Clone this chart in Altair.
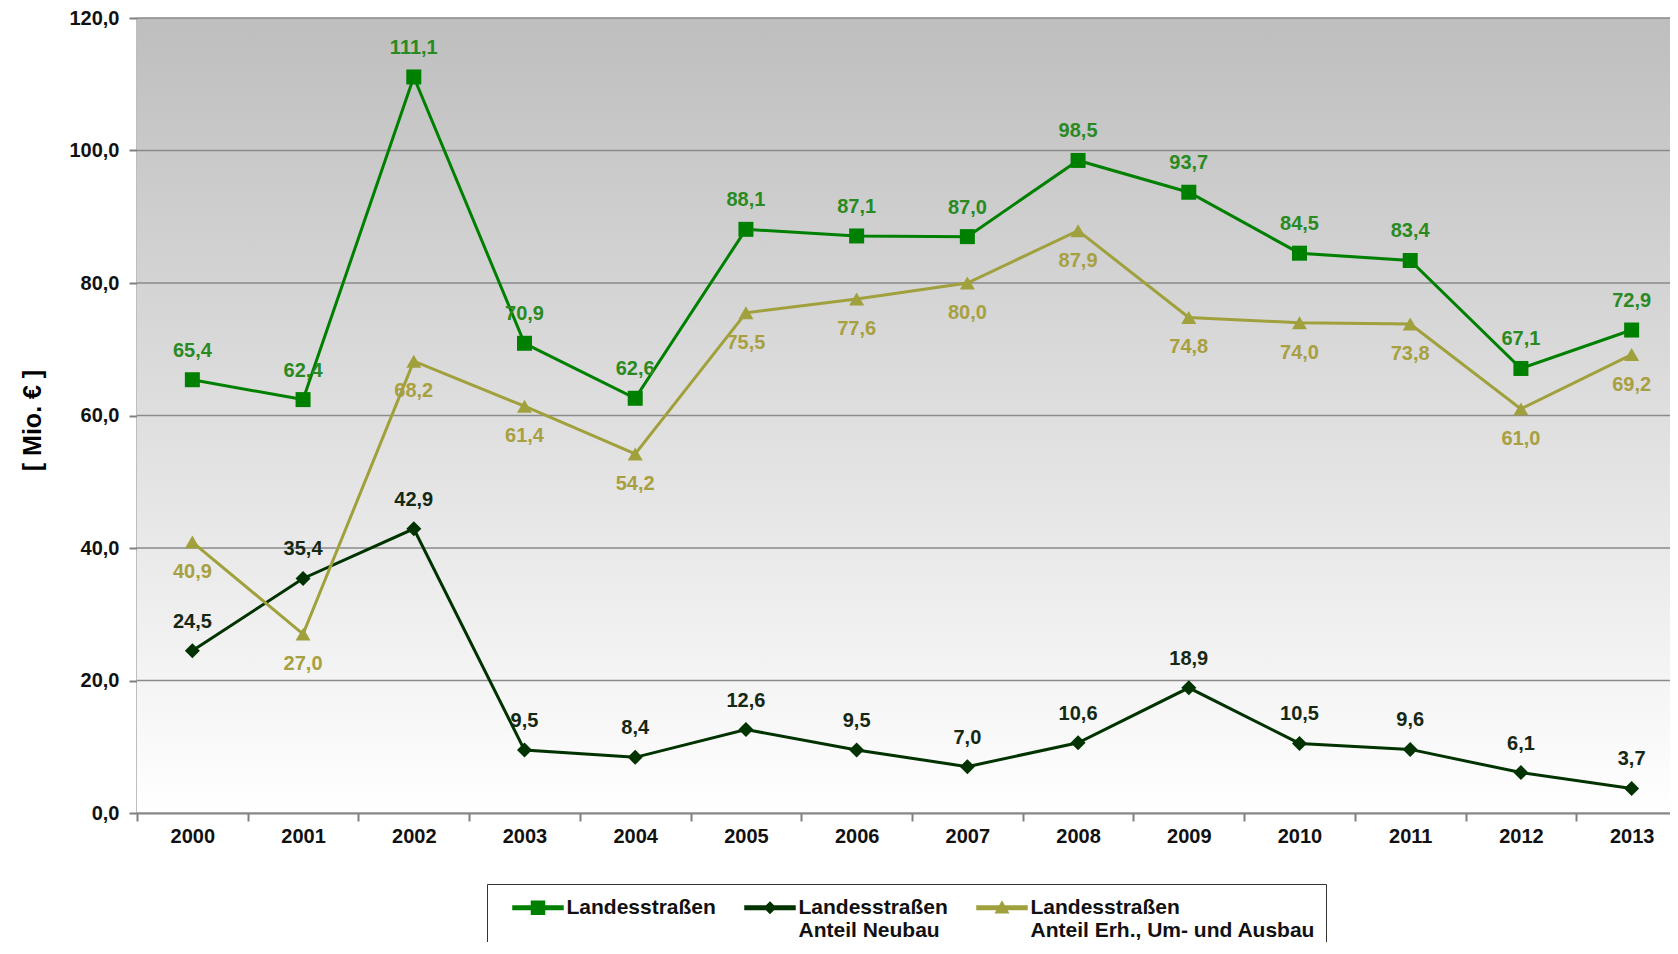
import altair as alt
import pandas as pd

years = [str(y) for y in range(2000, 2014)]
gesamt = [65.4, 62.4, 111.1, 70.9, 62.6, 88.1, 87.1, 87.0, 98.5, 93.7, 84.5, 83.4, 67.1, 72.9]
neubau = [24.5, 35.4, 42.9, 9.5, 8.4, 12.6, 9.5, 7.0, 10.6, 18.9, 10.5, 9.6, 6.1, 3.7]
erhalt = [40.9, 27.0, 68.2, 61.4, 54.2, 75.5, 77.6, 80.0, 87.9, 74.8, 74.0, 73.8, 61.0, 69.2]
series_names = [
    "Landesstraßen",
    "Landesstraßen|Anteil Neubau",
    "Landesstraßen|Anteil Erh., Um- und Ausbau",
]
line_colors = ["#008000", "#003300", "#a0a03c"]
label_colors = ["#2a8a22", "#142814", "#a8a040"]
marker_shapes = ["square", "diamond", "triangle-up"]
LINE = "M-2,-0.14L2,-0.14L2,0.14L-2,0.14Z "
legend_paths = [
    LINE + "M-0.52,-0.52L0.52,-0.52L0.52,0.52L-0.52,0.52Z",
    LINE + "M0,-0.44L0.44,0L0,0.44L-0.44,0Z",
    LINE + "M0,-0.48L0.5,0.4L-0.5,0.4Z",
]
label_dy = [-29, -29, 30]
y_ticks = [0, 20, 40, 60, 80, 100, 120]

rows = []
for name, vals in zip(series_names, [gesamt, neubau, erhalt]):
    for yr, v in zip(years, vals):
        rows.append({"Jahr": yr, "Serie": name, "Wert": v})
df = pd.DataFrame(rows)

FONT = "Liberation Sans"
W, H = 1533, 795

x_enc = alt.X(
    "Jahr:N",
    sort=years,
    scale=alt.Scale(range=[0, 1550], paddingInner=0, paddingOuter=0),
    axis=alt.Axis(
        title=None, labelAngle=0, tickBand="extent", labelFont=FONT,
        labelFontSize=20, labelFontWeight="bold", labelColor="#111111",
        labelPadding=5, tickSize=8, tickColor="#7f7f7f", tickWidth=2,
        domainColor="#7f7f7f", domainWidth=2, grid=False,
    ),
)
y_axis = alt.Axis(
    values=y_ticks, grid=False,
    labelExpr="replace(format(datum.value, '.1f'), '.', ',')",
    labelFont=FONT, labelFontSize=20, labelFontWeight="bold", labelColor="#111111",
    labelPadding=10, tickSize=8, tickColor="#7f7f7f", tickWidth=2,
    domainColor="#7f7f7f", domainWidth=2,
    title="[ Mio. € ]", titleFont=FONT, titleFontSize=25, titleFontWeight="bold",
    titleColor="#000000", titleAngle=270, titleX=-105, titleY=402,
    titleAlign="center", titleBaseline="middle",
)
y_scale = alt.Scale(domain=[0, 120], nice=False)
color_scale = alt.Scale(domain=series_names, range=line_colors)
shape_scale = alt.Scale(domain=series_names, range=legend_paths)

base = alt.Chart(df)

background = alt.Chart(alt.Data(values=[{"k": 1}])).mark_rect(
    fill=alt.LinearGradient(
        gradient="linear", x1=0, x2=0, y1=0, y2=1,
        stops=[alt.GradientStop(color="#bebebe", offset=0),
               alt.GradientStop(color="#ffffff", offset=1)],
    )
).encode(x=alt.value(0), x2=alt.value("width"), y=alt.value(0), y2=alt.value("height"))

grid = alt.Chart(pd.DataFrame({"v": y_ticks})).mark_rule(
    color="#8a8a8a", strokeWidth=1.5
).encode(y=alt.Y("v:Q", scale=y_scale, axis=y_axis))

legend_def = alt.Legend(
    title=None, orient="none", legendX=350, legendY=866, direction="horizontal",
    columns=3, columnPadding=13, symbolSize=625, symbolOpacity=1,
    symbolOffset=27.5, labelOffset=15,
    labelFont=FONT, labelFontSize=21, labelFontWeight="bold", labelColor="#111111",
    labelLimit=600,
    labelExpr="indexof(datum.label, '|') < 0 ? [datum.label, ' '] : split(datum.label, '|')",
    padding=10, strokeColor="#333333", fillColor="#ffffff",
)

# invisible layer that only carries the legend (line + marker symbols)
legend_layer = base.mark_point(filled=True, opacity=0, size=1).encode(
    x=x_enc,
    y=alt.Y("Wert:Q", scale=y_scale, axis=y_axis),
    color=alt.Color("Serie:N", scale=color_scale, legend=legend_def),
    shape=alt.Shape("Serie:N", scale=shape_scale, legend=legend_def),
)

lines = base.mark_line(strokeWidth=3).encode(
    x=x_enc,
    y=alt.Y("Wert:Q", scale=y_scale, axis=y_axis),
    color=alt.Color("Serie:N", scale=color_scale, legend=None),
    detail="Serie:N",
)

layers = [background, grid, legend_layer, lines]

for name, shp in zip(series_names, marker_shapes):
    layers.append(
        base.transform_filter(alt.datum.Serie == name)
        .mark_point(shape=shp, filled=True, size=225, opacity=1)
        .encode(
            x=x_enc,
            y=alt.Y("Wert:Q", scale=y_scale, axis=y_axis),
            color=alt.Color("Serie:N", scale=color_scale, legend=None),
        )
    )

for name, col, dy in zip(series_names, label_colors, label_dy):
    layers.append(
        base.transform_filter(alt.datum.Serie == name)
        .transform_calculate(lab="replace(format(datum.Wert, '.1f'), '.', ',')")
        .mark_text(dy=dy, font=FONT, fontSize=20, fontWeight="bold", color=col)
        .encode(
            x=x_enc,
            y=alt.Y("Wert:Q", scale=y_scale, axis=y_axis),
            text="lab:N",
        )
    )

chart = alt.layer(*layers).properties(
    width=W, height=H,
    autosize=alt.AutoSizeParams(type="none"),
    padding={"left": 129, "top": 10, "right": 0, "bottom": 129},
).configure_view(stroke=None)

chart.save("out.html", embed_options={"renderer": "svg", "actions": False})
